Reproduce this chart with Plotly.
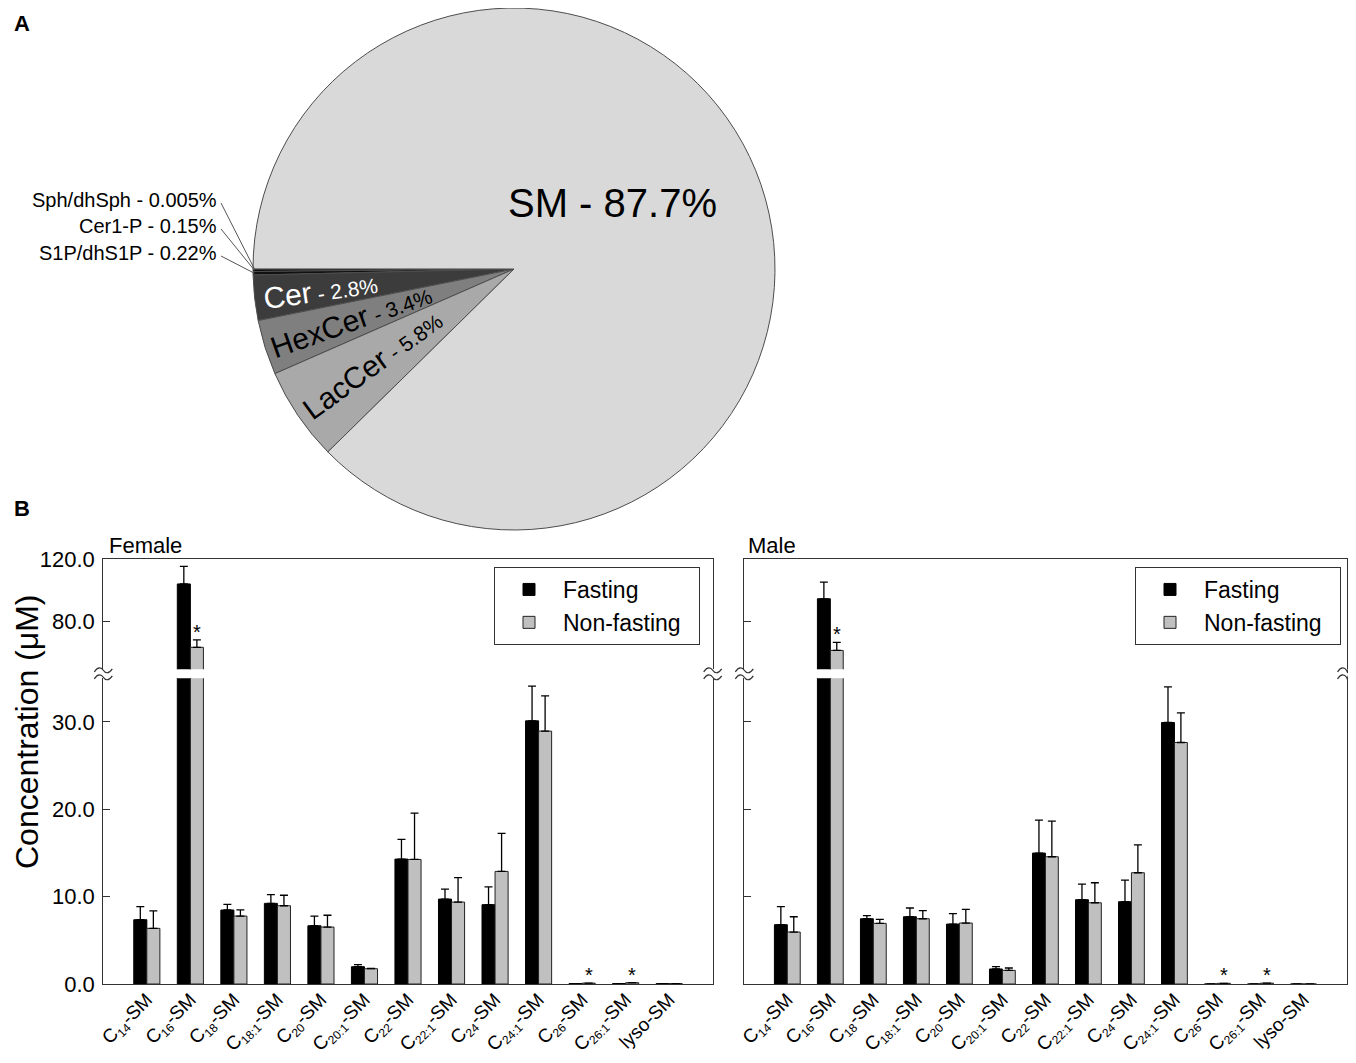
import math
import plotly.graph_objects as go

# ---------------- data ----------------
pie_labels = ["Sph/dhSph", "Cer1-P", "S1P/dhS1P", "Cer", "HexCer", "LacCer", "SM"]
pie_values = [0.005, 0.15, 0.22, 2.8, 3.4, 5.8, 87.7]
pie_colors = ["#000000", "#000000", "#111111", "#3c3c3c", "#7f7f7f", "#a9a9a9", "#d9d9d9"]

chains = ["14", "16", "18", "18:1", "20", "20:1", "22", "22:1", "24", "24:1", "26", "26:1"]
categories = [f"C<sub><span style='font-size:12px'>{c}</span></sub>-SM" for c in chains] + ["lyso-SM"]

series_names = ["Fasting", "Non-fasting"]

female_fasting = [7.36, 104.2, 8.47, 9.23, 6.67, 1.98, 14.3, 9.72, 9.08, 30.13, 0.05, 0.05, 0.04]
female_fasting_err = [1.5, 11.3, 0.65, 1.0, 1.1, 0.23, 2.25, 1.15, 2.05, 3.97, None, None, None]
female_nonfasting = [6.37, 63.6, 7.78, 8.96, 6.52, 1.75, 14.26, 9.38, 12.89, 28.95, 0.1, 0.15, 0.05]
female_nonfasting_err = [2.0, 4.7, 0.7, 1.2, 1.35, 0.05, 5.3, 2.8, 4.35, 4.04, None, None, None]

male_fasting = [6.79, 94.7, 7.47, 7.7, 6.86, 1.72, 14.99, 9.65, 9.42, 29.94, 0.0, 0.0, 0.0]
male_fasting_err = [2.06, 10.7, 0.35, 1.0, 1.19, 0.26, 3.77, 1.79, 2.48, 4.07, None, None, None]
male_nonfasting = [5.95, 61.6, 6.94, 7.47, 6.98, 1.56, 14.57, 9.3, 12.74, 27.65, 0.08, 0.1, 0.0]
male_nonfasting_err = [1.75, 5.1, 0.46, 0.92, 1.57, 0.27, 4.08, 2.29, 3.2, 3.39, None, None, None]

significant = [False, True, False, False, False, False, False, False, False, False, True, True, False]

lower_ticks = [0, 10, 20, 30]
upper_ticks = [80, 120]

# ---------------- layout geometry (window pixels) ----------------
PAGE_MARGIN = 8                      # default <body> margin of the html page
W, H = 1356 - 2 * PAGE_MARGIN, 1063 - 2 * PAGE_MARGIN
FONT = "Liberation Sans, Arial, Helvetica, sans-serif"


def px(x):
    return min(max((x - PAGE_MARGIN) / W, 0.0), 1.0)


def py(y):
    return min(max(1 - (y - PAGE_MARGIN) / H, 0.0), 1.0)


pie_cx, pie_cy, pie_r = 514, 269, 261
panels = {"F": (103.3, 712.7), "M": (744.3, 1346.5)}
lower_px = (678.3, 984.0)
upper_px = (559.3, 669.3)
lower_range = [0, 35]
upper_range = [49.5, 120]

fig = go.Figure()

# ---------------- pie ----------------
fig.add_trace(go.Pie(
    labels=pie_labels, values=pie_values, sort=False, direction="counterclockwise",
    rotation=-90, textinfo="none", showlegend=False, hoverinfo="label+percent",
    marker=dict(colors=pie_colors, line=dict(color="#4d4d4d", width=1)),
    domain=dict(x=[px(pie_cx - pie_r), px(pie_cx + pie_r)],
                y=[py(pie_cy + pie_r), py(pie_cy - pie_r)]),
))

annotations = []
shapes = []


def note(x, y, text, size, color="black", xanchor="center", yanchor="middle", angle=0):
    return dict(x=px(x), y=py(y), xref="paper", yref="paper", showarrow=False,
                xanchor=xanchor, yanchor=yanchor, text=text, textangle=angle,
                font=dict(size=size, color=color, family=FONT))


total = sum(pie_values)
cum = 0.0
mids = []
for v in pie_values:
    mids.append((cum + v / 2) / total * 360.0)
    cum += v

# inside labels (Cer, HexCer, LacCer) rotated along radius
inside_r = {"Cer": 0.745, "HexCer": 0.655, "LacCer": 0.655}
inside_col = {"Cer": "white", "HexCer": "black", "LacCer": "black"}
for lab, val, mid in zip(pie_labels, pie_values, mids):
    if lab in inside_r:
        a = math.radians(mid)
        r = inside_r[lab] * pie_r
        x = pie_cx - r * math.cos(a)
        y = pie_cy + r * math.sin(a)
        annotations.append(note(x, y, f"{lab}<span style='font-size:21px'> - {val}%</span>",
                                30, inside_col[lab], angle=-mid - 2))
    elif lab == "SM":
        annotations.append(note(612, 203, f"{lab} - {val}%", 40))

# outside labels for the tiny slices with leader lines
out_y = [200, 226, 253]
tiny = [i for i, v in enumerate(pie_values) if v < 1]
for k, i in enumerate(tiny):
    a = math.radians(mids[i])
    ex = pie_cx - pie_r * math.cos(a) + 1.5
    ey = pie_cy + pie_r * math.sin(a)
    annotations.append(note(219, out_y[k], f"{pie_labels[i]} - {pie_values[i]}%", 20,
                            xanchor="right"))
    shapes.append(dict(type="line", xref="paper", yref="paper",
                       x0=px(221), y0=py(out_y[k] + 3), x1=px(ex), y1=py(ey),
                       line=dict(color="#555555", width=1)))

# ---------------- bars ----------------
groups = [
    ("F", "x", "y", "x2", "y2", "legend",
     female_fasting, female_fasting_err, female_nonfasting, female_nonfasting_err),
    ("M", "x3", "y3", "x4", "y4", "legend2",
     male_fasting, male_fasting_err, male_nonfasting, male_nonfasting_err),
]

PAD = "\u00a0\u00a0"   # a little extra right padding inside the legend box

for key, xl, yl, xu, yu, leg, fv, fe, nv, ne in groups:
    for (xa, ya, show) in [(xl, yl, True), (xu, yu, False)]:
        fig.add_trace(go.Bar(
            x=categories, y=fv, name=series_names[0], xaxis=xa, yaxis=ya, legend=leg,
            showlegend=show, legendgroup=key + "F", offsetgroup="F",
            marker=dict(color="black", line=dict(color="black", width=1)),
            error_y=dict(type="data", array=fe, arrayminus=[0] * len(fe), symmetric=False,
                         color="black", thickness=1.3, width=4)))
        fig.add_trace(go.Bar(
            x=categories, y=nv, name=series_names[1] + PAD, xaxis=xa, yaxis=ya, legend=leg,
            showlegend=show, legendgroup=key + "N", offsetgroup="N",
            marker=dict(color="#c0c0c0", line=dict(color="#222222", width=1)),
            error_y=dict(type="data", array=ne, arrayminus=[0] * len(ne), symmetric=False,
                         color="black", thickness=1.3, width=4)))

    # significance asterisks above non-fasting bars
    x0p, x1p = panels[key]
    cat_px = (x1p - x0p) / (len(categories) + 1)
    for i, sig in enumerate(significant):
        if not sig:
            continue
        top = nv[i] + (ne[i] or 0)
        yref = yu if top > lower_range[1] else yl
        annotations.append(dict(
            x=categories[i], y=top, xref=xl, yref=yref, showarrow=False,
            xanchor="center", xshift=0.15 * cat_px, yanchor="bottom", yshift=-5, text="*",
            font=dict(size=20, color="black", family=FONT)))

axis_common = dict(showgrid=False, zeroline=False, linecolor="#333333", linewidth=1.2,
                   automargin=False)
x_common = dict(axis_common, type="category", range=[-1, len(categories)],
                ticks="", tickangle=-45, ticklabelstandoff=-4,
                tickfont=dict(size=19, color="black", family=FONT))
ylow_common = dict(axis_common, range=lower_range, showline=True, mirror=True,
                   ticks="inside", ticklen=7, tickcolor="#333333", tickmode="array",
                   tickvals=lower_ticks, ticktext=[f"{v:.1f}" for v in lower_ticks],
                   ticklabelstandoff=3,
                   tickfont=dict(size=22, color="black", family=FONT))
yup_common = dict(axis_common, range=upper_range, showline=True, mirror=True,
                  ticks="inside", ticklen=7, tickcolor="#333333", tickmode="array",
                  tickvals=upper_ticks, ticktext=[f"{v:.1f}" for v in upper_ticks],
                  ticklabelstandoff=3,
                  tickfont=dict(size=22, color="black", family=FONT))

fx = [px(panels["F"][0]), px(panels["F"][1])]
mx = [px(panels["M"][0]), px(panels["M"][1])]
low_dom = [py(lower_px[1]), py(lower_px[0])]
up_dom = [py(upper_px[1]), py(upper_px[0])]

layout_axes = dict(
    xaxis=dict(x_common, domain=fx, anchor="y", showline=True),
    yaxis=dict(ylow_common, domain=low_dom, anchor="x"),
    xaxis2=dict(x_common, domain=fx, anchor="y2", matches="x", side="top",
                showline=True, showticklabels=False),
    yaxis2=dict(yup_common, domain=up_dom, anchor="x2"),
    xaxis3=dict(x_common, domain=mx, anchor="y3", showline=True),
    yaxis3=dict(ylow_common, domain=low_dom, anchor="x3", showticklabels=False),
    xaxis4=dict(x_common, domain=mx, anchor="y4", matches="x3", side="top",
                showline=True, showticklabels=False),
    yaxis4=dict(yup_common, domain=up_dom, anchor="x4", showticklabels=False),
)


# axis-break squiggles
def squiggle(xc, yc):
    w = 9
    p = f"M {px(xc - w)},{py(yc + 1.5)} C {px(xc - w * 0.6)},{py(yc - 4)} {px(xc - w * 0.2)},{py(yc - 3)} {px(xc)},{py(yc)}"
    p += f" C {px(xc + w * 0.2)},{py(yc + 3)} {px(xc + w * 0.6)},{py(yc + 4)} {px(xc + w)},{py(yc - 1.5)}"
    return dict(type="path", path=p, xref="paper", yref="paper",
                line=dict(color="#333333", width=1.2))


for xc in [panels["F"][0], panels["F"][1], panels["M"][0], panels["M"][1]]:
    shapes.append(squiggle(xc, upper_px[1] + 1))
    shapes.append(squiggle(xc, lower_px[0] - 1))

# titles and panel letters
annotations += [
    note(107, 560, "Female", 22, xanchor="left", yanchor="bottom"),
    note(746, 560, "Male", 22, xanchor="left", yanchor="bottom"),
    note(27, 732, "Concentration (μM)", 32, angle=-90),
    note(12, 9.5, "<b>A</b>", 22, xanchor="left", yanchor="top"),
    note(12, 508, "<b>B</b>", 22, xanchor="left"),
]

legend_common = dict(bgcolor="white", bordercolor="#333333", borderwidth=1,
                     font=dict(size=23, color="black", family=FONT),
                     xanchor="right", yanchor="top", itemwidth=58, traceorder="normal",
                     tracegroupgap=1)

fig.update_layout(
    width=W, height=H, margin=dict(l=0, r=0, t=0, b=0, autoexpand=False),
    paper_bgcolor="white", plot_bgcolor="white",
    font=dict(family=FONT, color="black"),
    barmode="group", bargap=0.4, bargroupgap=0.0,
    annotations=annotations, shapes=shapes,
    legend=dict(legend_common, x=px(700), y=py(567)),
    legend2=dict(legend_common, x=px(1341), y=py(567)),
    **layout_axes,
)

fig.write_html("out.html")
